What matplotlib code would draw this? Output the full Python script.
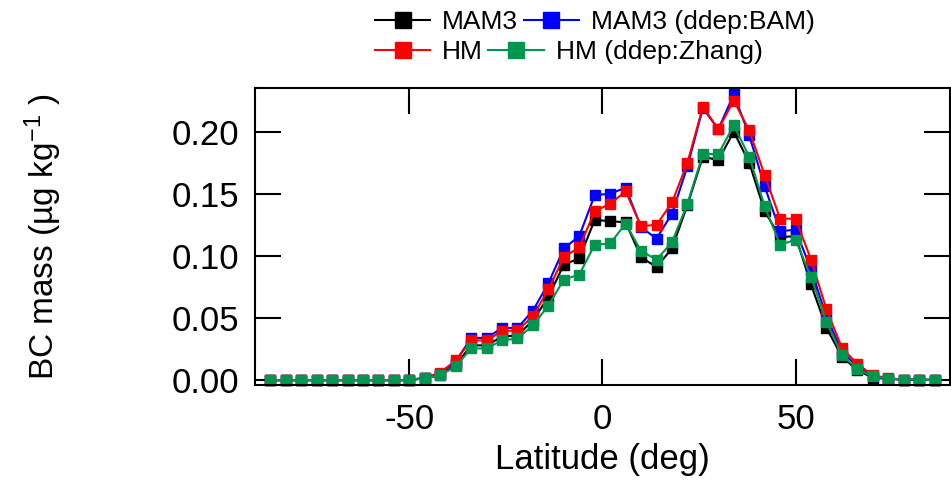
"""BC mass zonal mean vs latitude for four model configurations"""
import matplotlib
matplotlib.use("Agg")
import matplotlib.pyplot as plt
import numpy as np

plt.rcParams["font.family"] = ["Liberation Sans", "DejaVu Sans"]
plt.rcParams["mathtext.fontset"] = "custom"
plt.rcParams["mathtext.rm"] = "Liberation Sans"
plt.rcParams["mathtext.it"] = "Liberation Sans:italic"
plt.rcParams["axes.unicode_minus"] = False

# latitude bins (deg)
lat = np.arange(-86, 87, 4)

zeros_south = [0.0] * 10  # -86 .. -50
tail_north = [0.0005, 0.0003, 0.0002]  # 78 .. 86

mam3 = zeros_south + [
    0.0015, 0.004, 0.012, 0.028, 0.028, 0.035, 0.036, 0.048, 0.067, 0.093,
    0.098, 0.129, 0.128, 0.127, 0.099, 0.091, 0.106, 0.141, 0.180, 0.177,
    0.200, 0.175, 0.136, 0.115, 0.116, 0.077, 0.042, 0.019, 0.008, 0.002,
    0.001] + tail_north

mam3_bam = zeros_south + [
    0.002, 0.005, 0.015, 0.034, 0.034, 0.042, 0.042, 0.056, 0.078, 0.106,
    0.116, 0.149, 0.150, 0.155, 0.123, 0.114, 0.134, 0.172, 0.219, 0.202,
    0.230, 0.197, 0.156, 0.120, 0.121, 0.089, 0.051, 0.023, 0.011, 0.003,
    0.001] + tail_north

hm = zeros_south + [
    0.002, 0.006, 0.016, 0.032, 0.032, 0.0395, 0.040, 0.0515, 0.073, 0.099,
    0.107, 0.136, 0.142, 0.152, 0.124, 0.125, 0.143, 0.175, 0.220, 0.202,
    0.225, 0.201, 0.165, 0.130, 0.130, 0.097, 0.057, 0.026, 0.013, 0.004,
    0.0015] + tail_north

hm_zhang = zeros_south + [
    0.0015, 0.004, 0.011, 0.0255, 0.0255, 0.032, 0.0336, 0.044, 0.060, 0.081,
    0.085, 0.109, 0.110, 0.126, 0.104, 0.097, 0.111, 0.142, 0.182, 0.182,
    0.205, 0.180, 0.140, 0.109, 0.113, 0.083, 0.047, 0.020, 0.009, 0.003,
    0.0013] + tail_north

series = [
    ("MAM3", mam3, "#000000"),
    ("MAM3 (ddep:BAM)", mam3_bam, "#0000ff"),
    ("HM", hm, "#ff0000"),
    ("HM (ddep:Zhang)", hm_zhang, "#00964f"),
]

fig = plt.figure(figsize=(9.51, 4.82), dpi=100)
ax = fig.add_axes([0.268, 0.201, 0.731, 0.616])

lines = {}
for name, vals, color in series:
    (ln,) = ax.plot(lat, vals, color=color, marker="s", markersize=7,
                    linewidth=1.5, label=name, clip_on=False)
    lines[name] = ln

ax.set_xlim(-90, 90)
ax.set_ylim(-0.004, 0.235)
ax.set_xticks([-50, 0, 50])
ax.set_yticks([0.0, 0.05, 0.10, 0.15, 0.20])
ax.set_yticklabels(["0.00", "0.05", "0.10", "0.15", "0.20"])

ax.tick_params(direction="in", length=19, width=1.5, top=True, right=True,
               labelsize=25)
ax.tick_params(axis="y", pad=11)
ax.tick_params(axis="x", pad=13)
for sp in ax.spines.values():
    sp.set_linewidth(1.5)

ax.set_xlabel("Latitude (deg)", fontsize=25, labelpad=5)
ax.set_ylabel(r"BC mass (µg kg$^{-1}$ )", fontsize=24, labelpad=78)

# two legend rows, each laid out as a flowing line of entries
leg_kw = dict(loc="center left", ncol=2, frameon=False, fontsize=19,
              handlelength=2.1, handletextpad=0.45, columnspacing=0.2,
              borderpad=0, borderaxespad=0, markerscale=1.55)
leg1 = fig.legend([lines["MAM3"], lines["MAM3 (ddep:BAM)"]],
                  ["MAM3", "MAM3 (ddep:BAM)"],
                  bbox_to_anchor=(375 / 951, 1 - 22 / 482), **leg_kw)
leg2 = fig.legend([lines["HM"], lines["HM (ddep:Zhang)"]],
                  ["HM", "HM (ddep:Zhang)"],
                  bbox_to_anchor=(375 / 951, 1 - 52 / 482), **leg_kw)

fig.savefig("out.png", dpi=100)
plt.close(fig)
